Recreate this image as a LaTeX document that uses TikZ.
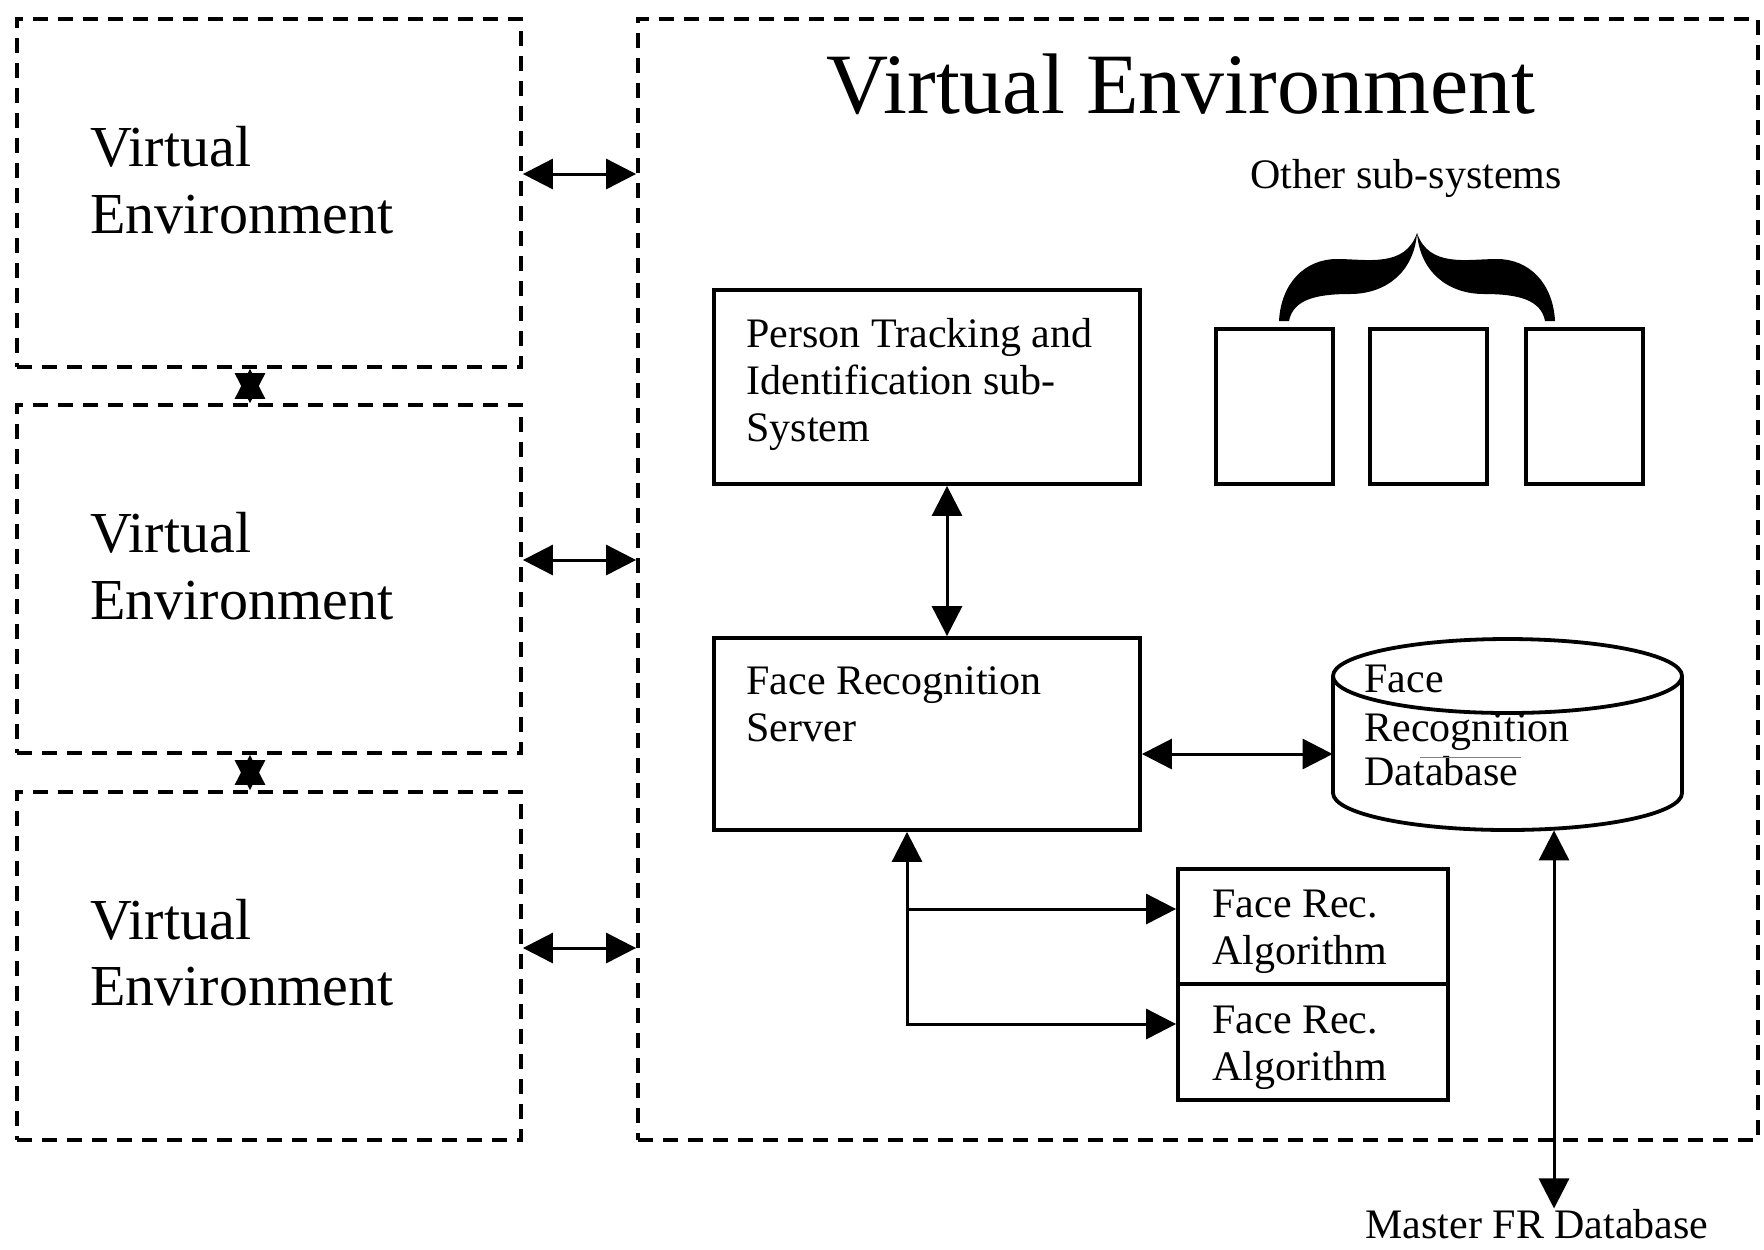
\documentclass[tikz,border=0pt]{standalone}
\usepackage{fontspec}
\setmainfont{Liberation Serif}
\usetikzlibrary{arrows.meta,fit}
\begin{document}
\begin{tikzpicture}[x=0.5pt,y=-0.5pt,
  box/.style={draw, line width=1.9pt, inner sep=0pt},
  dbox/.style={draw, line width=1.9pt, dash pattern=on 7.5pt off 5pt, inner sep=0pt},
  arr/.style={line width=1.5pt, {Triangle[length=15pt,width=15pt]}-{Triangle[length=15pt,width=15pt]}},
  txt/.style={font=\fontsize{21pt}{23.5pt}\selectfont, inner sep=0pt, anchor=base west},
  bigtxt/.style={font=\fontsize{29pt}{33pt}\selectfont, inner sep=0pt, anchor=base west},
]
\useasboundingbox (0,0) rectangle (1764,1249);
\fill[white] (0,0) rectangle (1764,1249);

% dashed environment boxes
\node[dbox, fit={(17,19)(521,367)}] (ve1) {};
\node[dbox, fit={(17,405)(521,753)}] (ve2) {};
\node[dbox, fit={(17,792)(521,1140)}] (ve3) {};
\node[dbox, fit={(638,19)(1758,1140)}] (vem) {};

\node[bigtxt] (t1a) at (90,166) {Virtual};
\node[bigtxt] (t1b) at (90,233) {Environment};
\node[bigtxt] (t2a) at (90,552) {Virtual};
\node[bigtxt] (t2b) at (90,619) {Environment};
\node[bigtxt] (t3a) at (90,939) {Virtual};
\node[bigtxt] (t3b) at (90,1005) {Environment};

\node[font=\fontsize{43pt}{48pt}\selectfont, inner sep=0pt, anchor=base] (title) at (1181,113) {Virtual Environment};

% arrows between environments
\coordinate (h1) at (0,174);
\coordinate (h2) at (0,560);
\coordinate (h3) at (0,948);
\coordinate (vx) at (250,0);
\draw[arr] (ve1.east |- h1) -- (vem.west |- h1);
\draw[arr] (ve2.east |- h2) -- (vem.west |- h2);
\draw[arr] (ve3.east |- h3) -- (vem.west |- h3);
\draw[arr] (vx |- ve1.south) -- (vx |- ve2.north);
\draw[arr] (vx |- ve2.south) -- (vx |- ve3.north);

% person tracking
\node[box, fit={(714,290)(1140,484)}] (pt) {};
\node[txt] (pt1) at (746,347) {Person Tracking and};
\node[txt] (pt2) at (746,394) {Identification sub-};
\node[txt] (pt3) at (746,441) {System};

% face recognition server
\node[box, fit={(714,638)(1140,830)}] (frs) {};
\node[txt] (frs1) at (746,694) {Face Recognition};
\node[txt] (frs2) at (746,741) {Server};

\coordinate (px) at (947,0);
\draw[arr] (px |- pt.south) -- (px |- frs.north);

% other sub-systems
\node[box, fit={(1216,329)(1333,484)}] (s1) {};
\node[box, fit={(1370,329)(1487,484)}] (s2) {};
\node[box, fit={(1526,329)(1643,484)}] (s3) {};
\node[txt, anchor=base] (other) at (1406,188) {Other sub-systems};
\fill (1279,321) .. controls (1281,283) and (1305,259) .. (1337,259)
  .. controls (1367,259) and (1405,268) .. (1417,233)
  .. controls (1414,272) and (1386,294) .. (1350,294)
  .. controls (1315,294) and (1293,300) .. (1289,321) -- cycle;
\fill (1555,321) .. controls (1553,283) and (1529,259) .. (1497,259)
  .. controls (1467,259) and (1429,268) .. (1417,233)
  .. controls (1420,272) and (1448,294) .. (1484,294)
  .. controls (1519,294) and (1541,300) .. (1545,321) -- cycle;

% database cylinder
\draw[line width=1.9pt] (1333,676) -- (1333,793)
  arc[start angle=180, end angle=0, x radius=174.5, y radius=37] -- (1682,676);
\draw[line width=1.9pt] (1507.5,676) ellipse [x radius=174.5, y radius=37];
\node[inner sep=0pt, fit={(1333,639)(1682,830)}] (db) {};
\node[txt] (db1) at (1364,692) {Face};
\node[txt] (db2) at (1364,741) {Recognition};
\node[txt] (db3) at (1364,785) {Database};
\draw[gray, line width=0.5pt] (1420,757) -- (1521,757);

\coordinate (hd) at (0,754);
\draw[arr] (frs.east |- hd) -- (db.west |- hd);

% algorithms
\node[box, fit={(1178,869)(1448,984)}] (fra1) {};
\node[box, fit={(1178,984)(1448,1100)}] (fra2) {};
\node[txt] (fa1) at (1212,917) {Face Rec.};
\node[txt] (fa2) at (1212,964) {Algorithm};
\node[txt] (fb1) at (1212,1033) {Face Rec.};
\node[txt] (fb2) at (1212,1080) {Algorithm};

\coordinate (jx) at (907,0);
\coordinate (b1) at (0,909);
\coordinate (b2) at (0,1024);
\draw[arr] (jx |- frs.south) -- (jx |- b2) -- (fra2.west |- b2);
\draw[line width=1.5pt, -{Triangle[length=15pt,width=15pt]}] (jx |- b1) -- (fra1.west |- b1);

% master database
\node[txt, anchor=base] (master) at (1537,1238) {Master FR Database};
\coordinate (dx) at (1554,0);
\draw[arr] (dx |- db.south) -- (dx |- master.north);
\end{tikzpicture}
\end{document}
